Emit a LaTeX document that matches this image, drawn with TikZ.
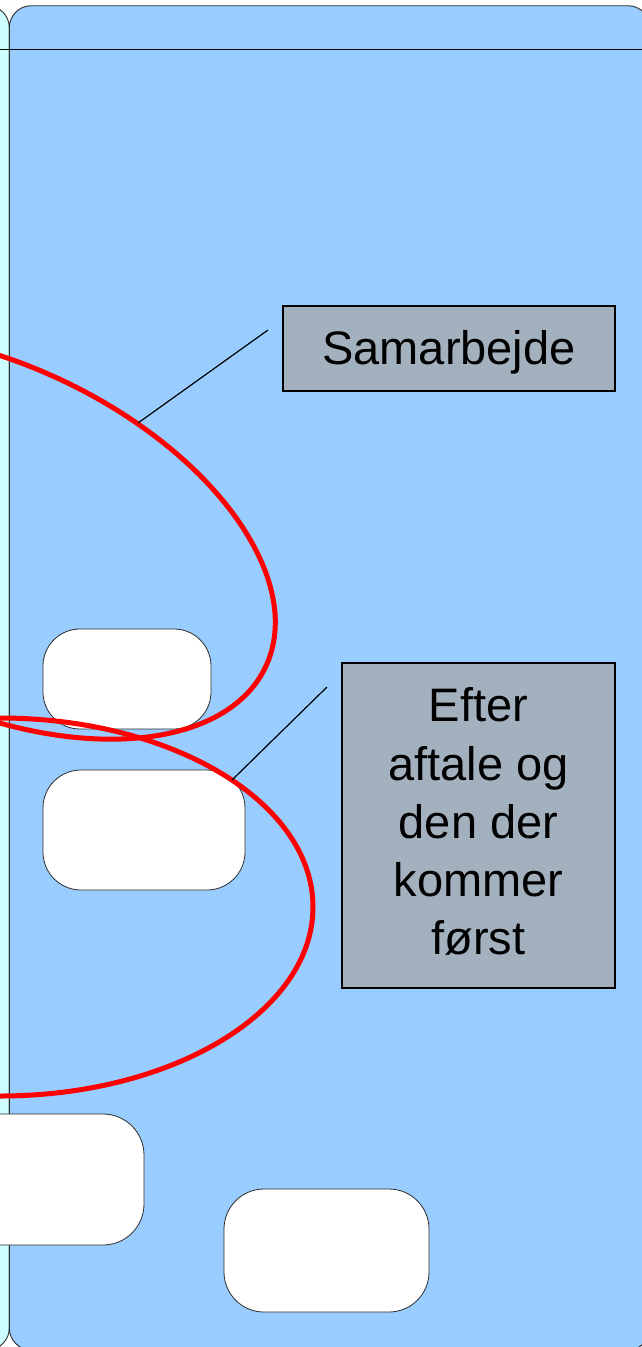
\documentclass[tikz,border=0pt]{standalone}
\usepackage{fontspec}
\setmainfont{Liberation Sans}
\definecolor{lanecyan}{RGB}{204,255,255}
\definecolor{laneblue}{RGB}{153,204,255}
\definecolor{calloutgrey}{RGB}{163,177,191}
\definecolor{loopred}{RGB}{255,0,0}
\definecolor{edgegrey}{RGB}{45,45,45}
\begin{document}
\begin{tikzpicture}[x=1pt,y=1pt,
  lanefill/.style={draw=edgegrey, line width=0.9pt, rounded corners=22pt},
  taskbox/.style={draw=edgegrey, fill=white, line width=0.8pt, inner sep=0pt},
  callout/.style={draw=black, fill=calloutgrey, line width=1.2pt, inner sep=0pt},
  calltext/.style={font=\fontsize{47}{58.3}\selectfont, align=center, inner sep=0pt},
  loop/.style={draw=loopred, line width=5pt},
  pointer/.style={draw=black, line width=1.2pt}
]
\useasboundingbox (0,0) rectangle (642,-1347);
\clip (0,0) rectangle (642,-1347);
\fill[white] (0,0) rectangle (642,-1347);

% swim lanes
\path[lanefill, fill=lanecyan] (-300,-5.7) rectangle (9.3,-1350);
\path[lanefill, fill=laneblue] (9.3,-5.7) rectangle (650,-1350);
\draw[black, line width=0.9pt] (-10,-49.3) -- (660,-49.3);

% activity boxes
\node[taskbox, rounded corners=37pt, minimum width=168pt, minimum height=100pt] (boxa) at (127,-679) {};
\node[taskbox, rounded corners=38pt, minimum width=202pt, minimum height=120pt] (boxb) at (144,-830) {};
\node[taskbox, rounded corners=41pt, minimum width=224pt, minimum height=131pt] (boxc) at (32,-1179.5) {};
\node[taskbox, rounded corners=40pt, minimum width=205pt, minimum height=123pt] (boxd) at (326.5,-1250.5) {};

% grouping loops
\draw[loop, rotate around={-25.3:(-11,-536)}] (-11,-536) ellipse [x radius=306pt, y radius=172pt];
\draw[loop] (0,-907) ellipse [x radius=313pt, y radius=189pt];

% callouts
\node[callout, minimum width=332pt, minimum height=85pt,
      font=\fontsize{47}{57.5}\selectfont, text height=36pt, text depth=4.4pt] (sam) at (449,-348.5) {Samarbejde};
\node[callout, minimum width=273pt, minimum height=325pt] (eft) at (478.5,-825.5) {};
\node[calltext] (efttext) at (478.5,-821.8) {Efter\\aftale og\\den der\\kommer\\først};

\coordinate (samtip) at (268,-330);
\coordinate (samhit) at (138,-423);
\coordinate (efttip) at (327,-687);
\coordinate (efthit) at (232,-780);
\draw[pointer] (samtip) -- (samhit);
\draw[pointer] (efttip) -- (efthit);
\end{tikzpicture}
\end{document}
